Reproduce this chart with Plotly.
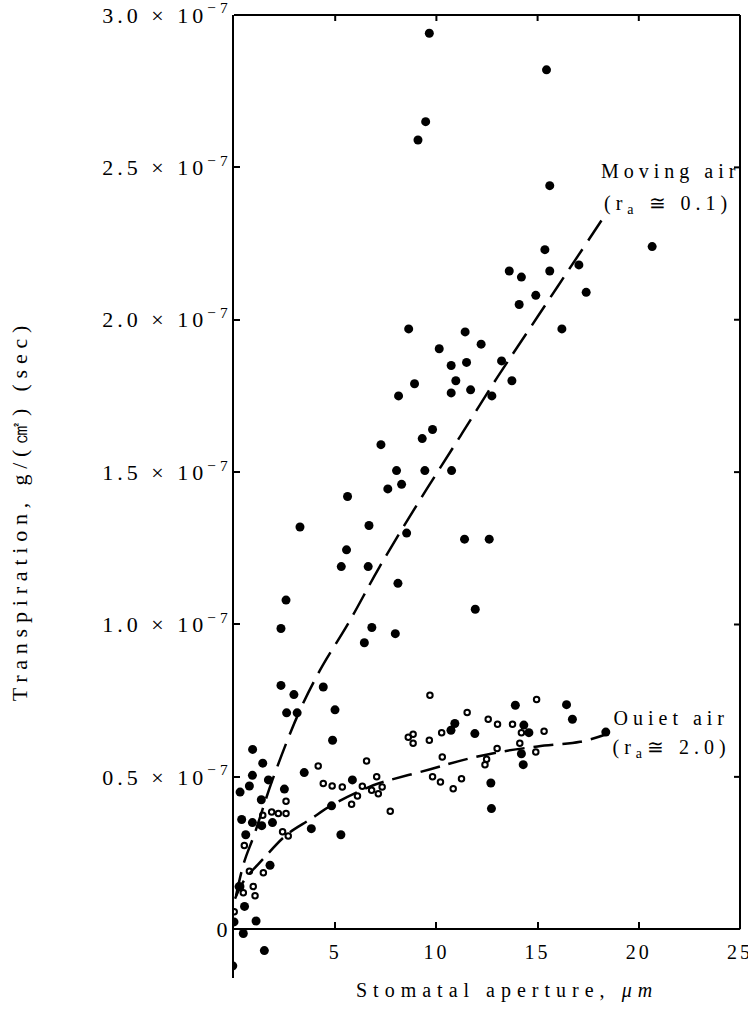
import plotly.graph_objects as go

# ---- data (transpiration in units of 1e-7 g/(cm2)(sec), aperture in um) ----
moving_x = [9.65, 15.44, 9.47, 9.09, 15.6, 15.36, 20.66, 13.6, 14.2, 15.6, 17.04, 14.91, 14.09, 17.4,
            8.63, 11.42, 16.2, 10.14, 12.21, 10.73, 11.49, 13.22, 10.96, 13.73, 10.73, 11.69, 12.74,
            8.92, 8.13, 9.81, 9.30, 7.26, 8.03, 9.43, 10.75, 7.6, 8.28, 8.53, 11.39, 12.61, 8.10,
            11.92, 7.97, 5.61, 3.26, 6.67, 5.56, 5.30, 6.63, 2.57, 2.32, 6.81, 6.44, 2.32, 2.96,
            2.60, 3.12, 4.41, 4.99, 4.87, 0.92, 1.42, 0.91, 0.76, 1.7, 0.30, 2.49, 3.47, 1.35, 0.38,
            0.91, 1.37, 1.9, 0.58, 3.82, 5.28, 5.85, 1.78, 0.25, -0.28, 0.52, 0.0, 1.09, 0.46, 1.5,
            -0.06, 4.82, 16.43, 16.72, 13.9, 10.72, 10.91, 11.9, 14.32, 14.57, 14.2, 14.29, 12.69,
            12.72, 18.37]
moving_y = [2.94, 2.82, 2.65, 2.59, 2.44, 2.23, 2.24, 2.16, 2.14, 2.16, 2.18, 2.08, 2.05, 2.09,
            1.97, 1.96, 1.97, 1.905, 1.92, 1.85, 1.86, 1.865, 1.80, 1.80, 1.76, 1.77, 1.75,
            1.79, 1.75, 1.64, 1.61, 1.59, 1.505, 1.505, 1.505, 1.445, 1.46, 1.30, 1.28, 1.28, 1.135,
            1.05, 0.97, 1.42, 1.32, 1.325, 1.245, 1.19, 1.19, 1.08, 0.987, 0.99, 0.94, 0.80, 0.77,
            0.71, 0.71, 0.795, 0.72, 0.62, 0.59, 0.545, 0.505, 0.47, 0.49, 0.45, 0.46, 0.514, 0.425, 0.36,
            0.35, 0.34, 0.35, 0.31, 0.33, 0.31, 0.49, 0.21, 0.14, 0.10, 0.075, 0.024, 0.027, -0.014, -0.07,
            -0.12, 0.405, 0.737, 0.689, 0.735, 0.653, 0.675, 0.642, 0.67, 0.645, 0.576, 0.54, 0.48,
            0.396, 0.647]

quiet_x = [9.68, 11.52, 14.95, 8.61, 8.85, 8.85, 9.65, 10.26, 12.56, 13.02, 13.76, 14.2, 15.32,
           14.12, 13.0, 12.48, 12.4, 14.91, 10.29, 9.81, 10.2, 10.83, 11.24, 7.72, 4.16, 4.41,
           4.85, 5.35, 6.55, 7.05, 6.34, 6.1, 5.81, 6.8, 7.13, 7.32, 2.4, 2.68, 2.57, 2.57, 2.19,
           1.86, 1.42, 0.51, 0.76, 1.45, 0.95, 1.04, 0.46, 0.01, 0.33]
quiet_y = [0.768, 0.711, 0.754, 0.63, 0.64, 0.61, 0.62, 0.645, 0.689, 0.673, 0.673, 0.645, 0.65,
           0.61, 0.593, 0.558, 0.54, 0.582, 0.565, 0.50, 0.483, 0.461, 0.494, 0.387, 0.536, 0.478,
           0.47, 0.467, 0.552, 0.50, 0.469, 0.437, 0.41, 0.456, 0.445, 0.467, 0.32, 0.306, 0.42, 0.38, 0.38,
           0.385, 0.374, 0.275, 0.19, 0.185, 0.14, 0.11, 0.12, 0.057, 0.14]

moving_fit_x = [0.1, 0.5, 1.0, 1.9, 3.2, 4.25, 5.7, 7.2, 9.2, 11.2, 13.0, 14.5, 16.0, 18.2]
moving_fit_y = [0.11, 0.22, 0.31, 0.49, 0.71, 0.85, 1.01, 1.19, 1.41, 1.62, 1.81, 1.96, 2.11, 2.33]

quiet_fit_x = [0.05, 0.5, 1.43, 2.6, 3.75, 4.9, 6.6, 7.2, 9.7, 11.3, 13.0, 15.0, 17.1, 18.4]
quiet_fit_y = [0.10, 0.16, 0.23, 0.31, 0.36, 0.41, 0.465, 0.48, 0.525, 0.555, 0.58, 0.60, 0.615, 0.64]

x_ticks = [5, 10, 15, 20, 25]
y_ticks = [0, 0.5, 1.0, 1.5, 2.0, 2.5, 3.0]
y_ticktext = ["0"] + ["%.1f × 10<sup>−7</sup>" % v for v in y_ticks[1:]]

X_RANGE = [0, 25]
Y_RANGE = [-0.16, 3.0]

W, H = 748, 1009
M = dict(l=234, r=8, t=15, b=31)
PLOT_W = W - M["l"] - M["r"]
PLOT_H = H - M["t"] - M["b"]
TICK = 6

SERIF = "Liberation Serif, Times New Roman, serif"

fig = go.Figure()
fig.add_trace(go.Scatter(x=moving_fit_x, y=moving_fit_y, mode="lines", line_shape="spline",
                         line=dict(color="black", width=2.5, dash="24px,10px"), hoverinfo="skip"))
fig.add_trace(go.Scatter(x=quiet_fit_x, y=quiet_fit_y, mode="lines", line_shape="spline",
                         line=dict(color="black", width=2.5, dash="20px,9px"), hoverinfo="skip"))
fig.add_trace(go.Scatter(x=moving_x, y=moving_y, mode="markers", name="Moving air",
                         marker=dict(symbol="circle", size=9, color="black")))
fig.add_trace(go.Scatter(x=quiet_x, y=quiet_y, mode="markers", name="Quiet air",
                         marker=dict(symbol="circle-open", size=5.5, color="black",
                                     line=dict(width=2, color="black"))))


def px_(v):
    return (v - X_RANGE[0]) / (X_RANGE[1] - X_RANGE[0])


def py_(v):
    return (v - Y_RANGE[0]) / (Y_RANGE[1] - Y_RANGE[0])


fig.update_layout(
    width=W, height=H,
    margin=M,
    paper_bgcolor="white", plot_bgcolor="white",
    showlegend=False,
    font=dict(family=SERIF, color="black", size=20),
    xaxis=dict(range=X_RANGE, anchor="free", position=py_(0), showgrid=False, zeroline=False,
               automargin=False, showline=True, linecolor="black", linewidth=2,
               ticks="inside", ticklen=TICK, tickwidth=2, tickcolor="black",
               tickvals=x_ticks, ticktext=[str(t) for t in x_ticks],
               tickfont=dict(size=20), ticklabelstandoff=5, ticklabeloverflow="allow"),
    yaxis=dict(range=Y_RANGE, showgrid=False, zeroline=False, automargin=False,
               showline=True, linecolor="black", linewidth=2,
               ticks="inside", ticklen=TICK, tickwidth=2, tickcolor="black",
               tickvals=y_ticks, ticktext=y_ticktext, tickfont=dict(size=22),
               ticklabeloverflow="allow", ticklabelstandoff=-4),
)

# frame: top and right lines with inward ticks (paper coordinates from the axis ranges)
frame = dict(color="black", width=2)
shapes = [
    dict(type="line", xref="paper", yref="paper", x0=0, x1=1, y0=1, y1=1, line=frame),
    dict(type="line", xref="paper", yref="paper", x0=1, x1=1, y0=py_(0), y1=1, line=frame),
]
for t in x_ticks[:-1]:
    shapes.append(dict(type="line", xref="paper", yref="paper",
                       x0=px_(t), x1=px_(t), y0=1, y1=1 - TICK / PLOT_H, line=frame))
for t in y_ticks[1:-1]:
    shapes.append(dict(type="line", xref="paper", yref="paper",
                       x0=1, x1=1 - TICK / PLOT_W, y0=py_(t), y1=py_(t), line=frame))
fig.update_layout(shapes=shapes)

ann = [
    dict(text="Moving air", x=0.8636, y=0.837),
    dict(text="(r<sub>a</sub> ≅ 0.1)", x=0.8577, y=0.8037),
    dict(text="Ouiet air", x=0.8656, y=0.270),
    dict(text="(r<sub>a</sub>≅ 2.0)", x=0.8656, y=0.2388),
]
for a in ann:
    a.update(xref="paper", yref="paper", xanchor="center", yanchor="middle", showarrow=False,
             font=dict(size=20))
ann.append(dict(text="Stomatal aperture, <i>μm</i>", x=13.5, y=-0.0125, xref="x", yref="paper",
                xanchor="center", yanchor="middle", showarrow=False, font=dict(size=20)))
ann.append(dict(text="Transpiration, g/(㎠) (sec)", x=-0.423, y=0.486, xref="paper", yref="paper",
                xanchor="center", yanchor="middle", textangle=-90, showarrow=False,
                font=dict(size=22)))
fig.update_layout(annotations=ann)

css = (".ytick text{letter-spacing:4px}"
       ".xtick text{letter-spacing:3px}"
       "g.annotation text{letter-spacing:5px}"
       "g.annotation[data-index=\"4\"] text{letter-spacing:6px}"
       "g.annotation[data-index=\"5\"] text{letter-spacing:5.8px}")
post = ("document.body.style.margin='0';"
        "var s=document.createElement('style');"
        "s.textContent=" + repr(css) + ";"
        "document.head.appendChild(s);")
fig.write_html("out.html", post_script=post, config={"displayModeBar": False})
